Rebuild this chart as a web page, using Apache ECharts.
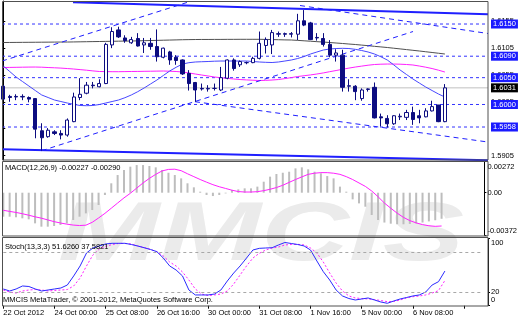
<!DOCTYPE html>
<html><head><meta charset="utf-8">
<script src="https://cdn.jsdelivr.net/npm/echarts@6/dist/echarts.min.js"></script>
<style>html,body{margin:0;padding:0;background:#fff}#c{width:520px;height:320px}</style>
</head><body><div id="c"></div>
<script>
// ---------- DATA ----------
const timeLabels = ['22 Oct 2012','24 Oct 00:00','25 Oct 08:00','26 Oct 16:00','30 Oct 00:00','31 Oct 08:00','1 Nov 16:00','5 Nov 00:00','6 Nov 08:00'];
const opens  = [1.6034,1.6015,1.6015,1.6014,1.6013,1.6011,1.5951,1.5940,1.5949,1.5946,1.5943,1.5968,1.6013,1.6021,1.6036,1.6033,1.6039,1.6111,1.6139,1.6124,1.6115,1.6123,1.6111,1.6114,1.6108,1.6088,1.6098,1.6088,1.6083,1.6058,1.6041,1.6030,1.6029,1.6030,1.6027,1.6049,1.6083,1.6074,1.6078,1.6078,1.6086,1.6110,1.6111,1.6131,1.6132,1.6131,1.6131,1.6156,1.6152,1.6125,1.6123,1.6112,1.6092,1.6092,1.6034,1.6034,1.6011,1.6028,1.6032,1.5977,1.5974,1.5964,1.5977,1.5976,1.5985,1.5979,1.5977,1.5988,1.5999,1.5968];
const closes = [1.6010,1.6013,1.6014,1.6015,1.6010,1.5954,1.5938,1.5952,1.5946,1.5943,1.5971,1.6014,1.6019,1.6036,1.6035,1.6039,1.6112,1.6136,1.6126,1.6119,1.6121,1.6109,1.6115,1.6108,1.6089,1.6105,1.6083,1.6082,1.6057,1.6039,1.6027,1.6029,1.6030,1.6030,1.6050,1.6083,1.6067,1.6080,1.6078,1.6086,1.6114,1.6121,1.6134,1.6132,1.6131,1.6132,1.6156,1.6148,1.6121,1.6124,1.6112,1.6092,1.6096,1.6032,1.6035,1.6024,1.6027,1.6029,1.5975,1.5975,1.5964,1.5979,1.5978,1.5985,1.5972,1.5975,1.5988,1.5996,1.5968,1.6031];
const lows   = [1.6008,1.6005,1.6008,1.6008,1.6004,1.5937,1.5914,1.5938,1.5943,1.5935,1.5940,1.5967,1.6008,1.6019,1.6030,1.6032,1.6038,1.6105,1.6124,1.6115,1.6113,1.6108,1.6096,1.6102,1.6080,1.6086,1.6074,1.6074,1.6055,1.6026,1.6005,1.6026,1.6024,1.6026,1.6025,1.6047,1.6063,1.6070,1.6075,1.6077,1.6084,1.6095,1.6094,1.6126,1.6126,1.6125,1.6120,1.6146,1.6120,1.6119,1.6108,1.6088,1.6080,1.6024,1.6024,1.6008,1.6007,1.6024,1.5974,1.5959,1.5957,1.5962,1.5971,1.5971,1.5962,1.5965,1.5976,1.5987,1.5967,1.5967];
const highs  = [1.6036,1.6018,1.6019,1.6019,1.6015,1.6012,1.5965,1.5956,1.5952,1.5952,1.5974,1.6022,1.6049,1.6042,1.6042,1.6047,1.6115,1.6144,1.6145,1.6129,1.6126,1.6133,1.6124,1.6124,1.6140,1.6106,1.6100,1.6092,1.6084,1.6064,1.6042,1.6039,1.6036,1.6039,1.6070,1.6084,1.6086,1.6082,1.6080,1.6089,1.6136,1.6125,1.6139,1.6136,1.6134,1.6135,1.6169,1.6176,1.6154,1.6133,1.6133,1.6120,1.6103,1.6102,1.6047,1.6036,1.6030,1.6030,1.6041,1.5983,1.5980,1.5980,1.5983,1.5990,1.5996,1.5990,1.5993,1.6007,1.5999,1.6038];

const maMagenta = [1.60689,1.60691,1.60693,1.60695,1.60697,1.60698,1.60695,1.60689,1.60684,1.60678,1.60670,1.60661,1.60650,1.60639,1.60626,1.60615,1.60613,1.60611,1.60611,1.60613,1.60615,1.60616,1.60618,1.60620,1.60622,1.60624,1.60620,1.60615,1.60605,1.60587,1.60568,1.60549,1.60531,1.60512,1.60499,1.60486,1.60475,1.60465,1.60458,1.60452,1.60447,1.60450,1.60456,1.60465,1.60482,1.60501,1.60521,1.60536,1.60551,1.60568,1.60588,1.60611,1.60633,1.60656,1.60678,1.60698,1.60715,1.60732,1.60745,1.60751,1.60754,1.60754,1.60751,1.60745,1.60736,1.60717,1.60695,1.60670,1.60639,1.60605];
const maBlue = [1.60717,1.60615,1.60512,1.60428,1.60344,1.60260,1.60177,1.60130,1.60083,1.60055,1.60027,1.60003,1.59981,1.59977,1.59981,1.59999,1.60027,1.60055,1.60083,1.60126,1.60177,1.60238,1.60307,1.60382,1.60456,1.60540,1.60624,1.60693,1.60754,1.60779,1.60792,1.60797,1.60801,1.60807,1.60810,1.60810,1.60810,1.60810,1.60810,1.60801,1.60792,1.60786,1.60782,1.60792,1.60810,1.60829,1.60857,1.60894,1.60941,1.60978,1.61015,1.61034,1.61043,1.61047,1.61043,1.61028,1.61006,1.60978,1.60941,1.60889,1.60829,1.60739,1.60643,1.60559,1.60475,1.60400,1.60326,1.60260,1.60195,1.60139];
const maGray = [1.61155,1.61156,1.61157,1.61158,1.61159,1.61160,1.61161,1.61162,1.61163,1.61164,1.61164,1.61166,1.61168,1.61170,1.61172,1.61174,1.61176,1.61178,1.61180,1.61182,1.61183,1.61186,1.61189,1.61192,1.61195,1.61198,1.61201,1.61204,1.61207,1.61209,1.61211,1.61212,1.61212,1.61213,1.61213,1.61214,1.61214,1.61215,1.61215,1.61215,1.61215,1.61213,1.61210,1.61207,1.61204,1.61202,1.61195,1.61187,1.61179,1.61171,1.61164,1.61155,1.61146,1.61137,1.61127,1.61118,1.61107,1.61096,1.61084,1.61073,1.61062,1.61049,1.61036,1.61023,1.61010,1.60997,1.60983,1.60969,1.60955,1.60941];

const levels = [1.6150,1.6090,1.6050,1.6000,1.5958];
const bidPrice = 1.6031;
const priceTicks = [1.5905,1.5955,1.6005,1.6055,1.6105,1.6155];
// trend lines: [barIndex1, price1, barIndex2, price2]
const trendSolid  = [[-0.2,1.59164,75.73,1.58962],[10.89,1.61906,75.73,1.61683]];
const trendDashed = [[-0.2,1.60810,29.17,1.61919],[6,1.59138,64.02,1.61360],[46.36,1.61845,75.73,1.61323],[29.95,1.60052,75.73,1.59300]];

const macdHist = [-0.00209,-0.00209,-0.00214,-0.00223,-0.00232,-0.00267,-0.00296,-0.00296,-0.00290,-0.00281,-0.00267,-0.00238,-0.00209,-0.00180,-0.00151,-0.00107,-0.00020,0.00082,0.00154,0.00198,0.00227,0.00241,0.00241,0.00233,0.00221,0.00198,0.00174,0.00154,0.00125,0.00082,0.00047,0.00009,-0.00020,-0.00029,-0.00020,-0.00006,0.00024,0.00029,0.00038,0.00038,0.00053,0.00096,0.00140,0.00163,0.00174,0.00183,0.00212,0.00221,0.00204,0.00183,0.00169,0.00145,0.00125,0.00053,0.00009,-0.00058,-0.00093,-0.00122,-0.00194,-0.00238,-0.00260,-0.00270,-0.00275,-0.00275,-0.00272,-0.00268,-0.00260,-0.00250,-0.00240,-0.00227];
const macdSignal = [-0.00153,-0.00163,-0.00172,-0.00183,-0.00196,-0.00210,-0.00222,-0.00237,-0.00252,-0.00264,-0.00274,-0.00282,-0.00286,-0.00283,-0.00258,-0.00220,-0.00180,-0.00135,-0.00090,-0.00045,-0.00005,0.00040,0.00085,0.00125,0.00160,0.00190,0.00203,0.00205,0.00192,0.00165,0.00140,0.00115,0.00092,0.00070,0.00052,0.00037,0.00022,0.00010,0.00006,0.00006,0.00009,0.00018,0.00030,0.00045,0.00065,0.00090,0.00115,0.00138,0.00160,0.00170,0.00175,0.00175,0.00170,0.00160,0.00140,0.00115,0.00085,0.00055,0.00015,-0.00035,-0.00090,-0.00135,-0.00178,-0.00215,-0.00243,-0.00263,-0.00278,-0.00288,-0.00293,-0.00290];
const macdTicks = [-0.00372,0,0.00272];

const stochK = [24.9,21.9,24.9,29.4,28.6,24.9,21.9,23.4,24.9,26.4,30.8,44.3,59.2,78.5,86,89,92,93,93,93,91.2,89,86.4,83.8,80.5,71,59.2,53.2,44.3,23.4,16,16,16,17.4,23.4,36.8,48.7,59.2,71,83,85.5,86,86.4,90.5,94.2,92.7,91.2,89,83,66.6,50.7,38.3,23.4,14.5,10.7,8.5,10,11.5,8.5,5.5,3.6,7,10,12.2,14.5,16,20.4,30.8,35.8,51.626];
const stochD = [23.4,20.4,18.9,21.9,23.4,24.1,23.4,21.9,22.7,23.4,24.1,29.4,41.3,59.2,75.6,84.5,88.2,91.2,92.7,92.7,92,89,86.7,83.8,80.5,74,65.1,59.2,50.2,38.3,24.9,17.4,15.2,16,17.4,21.9,32.3,45.8,59.2,71,78.1,83,86,87.5,90.5,91.2,91.5,90.5,86,78.5,65.1,48.7,33.8,21.9,14.5,11.5,10.7,10,9.2,7.7,6,6.3,8.5,11.5,13.4,14.5,16,18.9,22.4,37.5821];
const stochTicks = [0,20,80,100];
const stochLevels = [20,80];

// ---------- LAYOUT ----------
const FONT = 'Liberation Sans, Arial, sans-serif';
const FS = 7.5;
const NSLOT = 76;
const cats = Array.from({length:NSLOT},(_,i)=>String(i));
const priceMin = 1.58965, priceMax = 1.61929;
const xEdgeL = -0.203, xEdgeR = 75.734;
const candleData = opens.map((o,i)=>[o,closes[i],lows[i],highs[i]]);
const navy = '#0c0c80';
const lineBlue = '#1f1fff';

const chart = echarts.init(document.getElementById('c'), null, {renderer:'canvas'});

const series = [];
// horizontal price levels with price boxes
levels.forEach(p=>series.push({type:'line', xAxisIndex:0, yAxisIndex:0, data:[[xEdgeL,p],[xEdgeR,p]], symbol:'none', silent:true, clip:false,
  lineStyle:{color:'#3333ff', width:1, type:[3,3]}, z:1,
  endLabel:{show:true, distance:3, formatter:()=>p.toFixed(4), color:'#fff', backgroundColor:'#1a1aff', fontSize:FS, fontFamily:FONT, padding:[1,2,0,2], lineHeight:8}}));
series.push({type:'line', xAxisIndex:0, yAxisIndex:0, data:[[xEdgeL,bidPrice],[xEdgeR,bidPrice]], symbol:'none', silent:true, clip:false,
  lineStyle:{color:'#c0c0c0', width:1}, z:1,
  endLabel:{show:true, distance:3, formatter:()=>bidPrice.toFixed(4), color:'#fff', backgroundColor:'#000', fontSize:FS, fontFamily:FONT, padding:[1,2,0,2], lineHeight:8}});
// moving averages
series.push({type:'line', xAxisIndex:0, yAxisIndex:0, data: maGray.map((v,i)=>[i,v]), symbol:'none', silent:true, lineStyle:{color:'#505050', width:1}, z:2});
series.push({type:'line', xAxisIndex:0, yAxisIndex:0, data: maMagenta.map((v,i)=>[i,v]), symbol:'none', silent:true, lineStyle:{color:'#ff20ff', width:1}, z:2});
series.push({type:'line', xAxisIndex:0, yAxisIndex:0, data: maBlue.map((v,i)=>[i,v]), symbol:'none', silent:true, lineStyle:{color:'#4848ff', width:1}, z:2});
// trend lines
trendSolid.forEach(t=>series.push({type:'line', xAxisIndex:0, yAxisIndex:0, data:[[t[0],t[1]],[t[2],t[3]]], symbol:'none', silent:true, clip:false, lineStyle:{color:lineBlue, width:2}, z:3}));
trendDashed.forEach(t=>series.push({type:'line', xAxisIndex:0, yAxisIndex:0, data:[[t[0],t[1]],[t[2],t[3]]], symbol:'none', silent:true, clip:false, lineStyle:{color:lineBlue, width:1, type:[5,4]}, z:3}));
// candles
series.push({type:'candlestick', xAxisIndex:1, yAxisIndex:1, data:candleData, barWidth:3.6, silent:true,
  itemStyle:{color:'#ffffff', color0:navy, borderColor:navy, borderColor0:navy, borderWidth:1}, z:5});
// MACD
series.push({type:'bar', xAxisIndex:2, yAxisIndex:2, data:macdHist, barWidth:2, silent:true, itemStyle:{color:'#bdbdbd'}});
series.push({type:'line', xAxisIndex:2, yAxisIndex:2, data:macdSignal, symbol:'none', silent:true, lineStyle:{color:'#ff20ff', width:1}});
// Stochastic
series.push({type:'line', xAxisIndex:3, yAxisIndex:3, data:stochK, symbol:'none', silent:true, lineStyle:{color:'#2a2aff', width:1}, z:3,
  markLine:{symbol:['none','none'], silent:true, animation:false, label:{show:false},
    data: stochLevels.map(v=>({yAxis:v})), lineStyle:{color:'#a8a8a8', type:[3,3], width:1}}});
series.push({type:'line', xAxisIndex:3, yAxisIndex:3, data:stochD, symbol:'none', silent:true, lineStyle:{color:'#ff20ff', width:1, type:[2,2]}, z:2});

const lbl = {fontSize:FS, fontFamily:FONT, color:'#000'};
const fmtMacd = v => v===0 ? '0.00' : v.toFixed(5);
const macdTxt = `MACD(12,26,9) ${macdHist[macdHist.length-1].toFixed(5)} ${macdSignal[macdSignal.length-1].toFixed(5)}`;
const stochTxt = `Stoch(13,3,3) ${stochK[stochK.length-1].toFixed(4)} ${stochD[stochD.length-1].toFixed(4)}`;

const option = {
  animation:false,
  backgroundColor:'#ffffff',
  textStyle:{fontFamily:FONT},
  title:[
    {text:macdTxt, left:5, top:164, padding:0, textStyle:{fontSize:FS, fontWeight:'normal', color:'#000', fontFamily:FONT}},
    {text:stochTxt, left:5, top:242.5, padding:0, textStyle:{fontSize:FS, fontWeight:'normal', color:'#000', fontFamily:FONT}},
    {text:'MMCIS MetaTrader, © 2001-2012, MetaQuotes Software Corp.', left:3, top:296, padding:0, textStyle:{fontSize:FS, fontWeight:'normal', color:'#000', fontFamily:FONT}}
  ],
  grid:[
    {left:2, top:1, width:486, height:159},
    {left:3.3, top:1, width:480, height:159},
    {left:3.3, top:161.5, width:480, height:73.9},
    {left:3.3, top:238.6, width:480, height:67.1}
  ],
  xAxis:[
    {type:'value', gridIndex:0, min:xEdgeL, max:xEdgeR, show:false},
    {type:'category', gridIndex:1, data:cats, boundaryGap:false, show:false},
    {type:'category', gridIndex:2, data:cats, boundaryGap:false, show:false},
    {type:'category', gridIndex:3, data:cats, boundaryGap:false,
      axisLine:{show:false},
      axisTick:{show:true, interval:7, length:3, lineStyle:{color:'#000'}},
      axisLabel:{interval:7, align:'left', margin:3, ...lbl, formatter:(v,i)=> (i%8===0 && timeLabels[i/8]) ? timeLabels[i/8] : ''},
      splitLine:{show:false}}
  ],
  yAxis:[
    {type:'value', gridIndex:0, position:'right', min:priceMin, max:priceMax,
      axisLine:{show:true, lineStyle:{color:'#000'}},
      axisTick:{show:true, length:2, customValues:priceTicks, lineStyle:{color:'#000'}},
      axisLabel:{customValues:priceTicks, margin:3, ...lbl, formatter:v=>v.toFixed(4)},
      splitLine:{show:false}},
    {type:'value', gridIndex:1, min:priceMin, max:priceMax, show:false},
    {type:'value', gridIndex:2, position:'right', offset:4.7, min:macdTicks[0], max:macdTicks[2],
      axisLine:{show:true, lineStyle:{color:'#000'}},
      axisTick:{show:true, length:2, customValues:macdTicks, lineStyle:{color:'#000'}},
      axisLabel:{customValues:macdTicks, showMinLabel:true, showMaxLabel:true, margin:3, ...lbl,
        formatter:v=> v===macdTicks[2] ? '{t|'+fmtMacd(v)+'}' : (v===macdTicks[0] ? '{b|'+fmtMacd(v)+'}' : '{n|'+fmtMacd(v)+'}'),
        rich:{t:{...lbl, padding:[11,0,0,0]}, b:{...lbl, padding:[0,0,9,0]}, n:{...lbl}}},
      splitLine:{show:false}},
    {type:'value', gridIndex:3, position:'right', offset:4.7, min:0, max:100,
      axisLine:{show:true, lineStyle:{color:'#000'}},
      axisTick:{show:true, length:2, customValues:stochTicks, lineStyle:{color:'#000'}},
      axisLabel:{customValues:stochTicks, showMinLabel:true, showMaxLabel:true, hideOverlap:false, margin:3, ...lbl,
        formatter:v=> v===100 ? '{t|100}' : v===0 ? '{b|0}' : v===80 ? '{e|80}' : '{n|'+v+'}',
        rich:{t:{...lbl, padding:[9,0,0,0]}, b:{...lbl, padding:[0,0,11,0]}, e:{...lbl, padding:[0,0,4,0]}, n:{...lbl}}},
      splitLine:{show:false}}
  ],
  series:series,
  graphic:[
    {type:'text', silent:true, z:-10, x:58, y:195, scaleX:1.45, scaleY:1,
      style:{text:'MMCIS', x:0, y:0, verticalAlign:'top', font:'italic bold 84px Liberation Sans, Arial, sans-serif', fill:'#ebebeb'}},
    {type:'rect', silent:true, z:100, shape:{x:2.5, y:1.5, width:485.5, height:158.5}, style:{fill:null, stroke:'#505050', lineWidth:1}},
    {type:'rect', silent:true, z:100, shape:{x:2.5, y:161.5, width:485.5, height:74.5}, style:{fill:null, stroke:'#505050', lineWidth:1}},
    {type:'rect', silent:true, z:100, shape:{x:2.5, y:237.5, width:485.5, height:68.5}, style:{fill:null, stroke:'#505050', lineWidth:1}}
  ]
};
chart.setOption(option);
</script></body></html>
